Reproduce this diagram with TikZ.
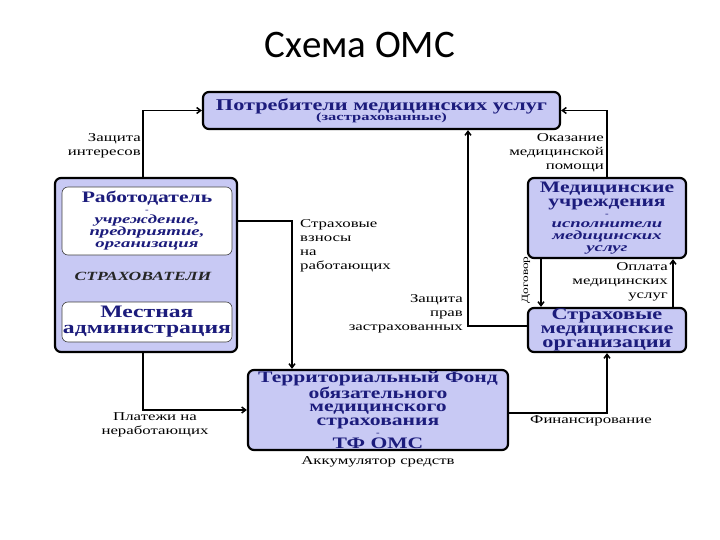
\documentclass[tikz,border=0pt]{standalone}
\usepackage{fontspec}
\setmainfont{Liberation Serif}
\newfontfamily\titlefont{Carlito}
\newfontfamily\boxfont[FakeStretch=1.35]{Liberation Serif}
\newfontfamily\smallfont[FakeStretch=1.5]{Liberation Serif}
\newfontfamily\lblfont[FakeStretch=1.4]{Liberation Serif}
\usetikzlibrary{positioning,calc,arrows.meta}
\definecolor{boxfill}{HTML}{C8C9F4}
\definecolor{boxtext}{HTML}{1C1C7C}
\newcommand\bigtxt{\boxfont\bfseries\upshape\fontsize{16}{15}\selectfont}
\newcommand\smalltxt{\smallfont\bfseries\itshape\fontsize{12.5}{13}\selectfont}
\newcommand\dashtxt{\boxfont\bfseries\upshape\fontsize{8}{7}\selectfont -}
\tikzset{
  mainbox/.style={draw=black,line width=2.2pt,rounded corners=6pt,fill=boxfill,text=boxtext,
    font=\boxfont\bfseries,align=center,inner sep=1pt},
  innerbox/.style={draw=black!75,line width=0.6pt,rounded corners=6pt,fill=white,text=boxtext,
    font=\boxfont\bfseries,align=center,inner sep=1pt},
  flow/.style={line width=1.5pt,-{Straight Barb[length=4pt,width=6pt]}},
  lbl/.style={font=\lblfont\fontsize{12}{14}\selectfont,inner sep=0pt}
}
\begin{document}
\begin{tikzpicture}[x=1pt,y=-1pt]
\useasboundingbox[fill=white] (0,0) rectangle (720,540);
% TITLE
\node[font=\titlefont\fontsize{39}{40}\selectfont] (title) at (360,45) {Схема ОМС};
% NODE 1: consumers of medical services
\node[mainbox,minimum width=357pt,minimum height=37pt] (cons) at (381.5,110.5)
  {\fontsize{16.5}{16}\selectfont Потребители медицинских услуг\\[-2pt]\smallfont\bfseries\fontsize{11}{11}\selectfont (застрахованные)};
% NODE 2: insurers (employer + local administration)
\node[mainbox,minimum width=182pt,minimum height=174pt] (strah) at (146,265) {};
\node[innerbox,minimum width=170pt,minimum height=68pt] (rab) at (147,221)
  {\bigtxt Работодатель\\[-2pt]\dashtxt\\[-1pt]\smalltxt учреждение,\\\smalltxt предприятие,\\\smalltxt организация};
\node[font=\lblfont\bfseries\itshape\fontsize{12.5}{13}\selectfont,text=black!85] (strahlbl) at (143,276) {СТРАХОВАТЕЛИ};
\node[innerbox,minimum width=170pt,minimum height=40pt,font=\boxfont\bfseries\fontsize{17.5}{16}\selectfont] (mest) at (147,322)
  {Местная\\ администрация};
% NODE 3: medical institutions
\node[mainbox,minimum width=158pt,minimum height=80pt] (medu) at (607,218)
  {\bigtxt Медицинские\\[1.5pt]\bigtxt учреждения\\[-2pt]\dashtxt\\[-1pt]\smalltxt исполнители\\\smalltxt медицинских\\\smalltxt услуг};
% NODE 4: insurance medical organisations
\node[mainbox,minimum width=158pt,minimum height=44pt,inner sep=0pt,font=\boxfont\bfseries\fontsize{16.5}{14}\selectfont] (smo) at (607,330)
  {Страховые\\ медицинские\\ организации};
% NODE 5: territorial fund
\node[mainbox,minimum width=260pt,minimum height=80pt,font=\boxfont\bfseries\fontsize{16}{13.5}\selectfont] (tf) at (378,410)
  {Территориальный Фонд\\ обязательного\\ медицинского\\ страхования\\[-3pt]\dashtxt\\[-1pt] \fontsize{16}{13.5}\selectfont ТФ ОМС};
\node[lbl,below=5pt of tf] (akk) {Аккумулятор средств};
% CONNECTORS
\draw[flow] ([xshift=-3pt]strah.north) |- (cons.west);
\node[lbl,align=right,anchor=north east] (zint) at (141,133) {Защита\\ интересов};
\draw[flow] (medu.north) |- (cons.east);
\node[lbl,align=right,anchor=north east] (okaz) at (604,133) {Оказание\\ медицинской\\ помощи};
\draw[flow] ([yshift=4pt]smo.west) -| ([xshift=86.5pt]cons.south);
\node[lbl,align=right,anchor=north east] (zprav) at (463,294) {Защита\\ прав\\ застрахованных};
\draw[flow] (rab.east -| strah.east) -| ([xshift=-86pt]tf.north);
\node[lbl,align=left,anchor=north west] (vzn) at (300,219) {Страховые\\ взносы\\ на\\ работающих};
\draw[flow] ([xshift=-3pt]strah.south) |- (tf.west);
\node[lbl,align=center] (plat) at (155,425) {Платежи на\\ неработающих};
\draw[flow] ([yshift=-3pt]tf.east) -| (smo.south);
\node[lbl] (fin) at (591,421) {Финансирование};
\draw[flow] ([xshift=-66pt]medu.south) -- ([xshift=-66pt]smo.north);
\node[lbl,rotate=90,font=\lblfont\fontsize{9.5}{11}\selectfont] (dog) at (526,280) {Договор};
\draw[flow] ([xshift=66pt]smo.north) -- ([xshift=66pt]medu.south);
\node[lbl,align=right,anchor=north east] (opl) at (668,262) {Оплата\\ медицинских\\ услуг};
\end{tikzpicture}
\end{document}
